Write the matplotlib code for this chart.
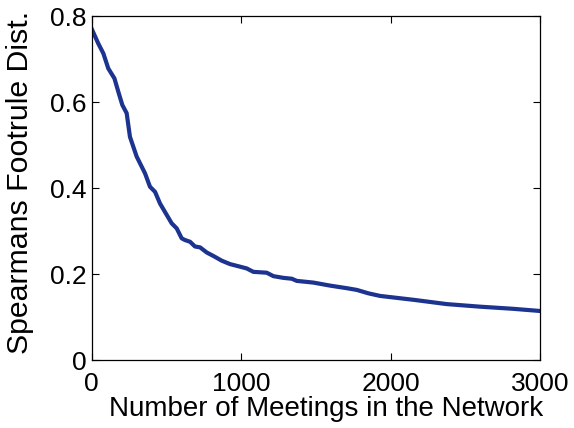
import matplotlib
matplotlib.use("Agg")
import matplotlib.pyplot as plt

plt.rcParams["font.family"] = ["Liberation Sans", "DejaVu Sans"]

# values
meetings = [0, 44, 78, 111, 152, 178, 205, 234, 256, 301, 357, 390, 424, 457,
            535, 569, 602, 624, 658, 691, 725, 770, 814, 870, 926, 993, 1037,
            1082, 1171, 1216, 1283, 1339, 1372, 1484, 1595, 1707, 1774, 1852,
            1930, 2153, 2376, 2599, 2822, 3000]
footrule = [0.770, 0.736, 0.713, 0.678, 0.655, 0.624, 0.593, 0.574, 0.519, 0.473,
            0.434, 0.403, 0.391, 0.364, 0.318, 0.306, 0.283, 0.279, 0.275, 0.264,
            0.262, 0.250, 0.242, 0.231, 0.223, 0.217, 0.213, 0.205, 0.203, 0.195,
            0.191, 0.189, 0.184, 0.180, 0.173, 0.167, 0.163, 0.155, 0.149, 0.140,
            0.130, 0.124, 0.119, 0.114]

x_ticks = [0, 1000, 2000, 3000]
y_ticks = [0, 0.2, 0.4, 0.6, 0.8]
y_tick_labels = ["0", "0.2", "0.4", "0.6", "0.8"]

fig = plt.figure(figsize=(5.74, 4.28), dpi=100)
ax = fig.add_axes([91.7 / 574, 1 - 360 / 428, (540 - 91.7) / 574, (360 - 16) / 428])

ax.plot(meetings, footrule, color="#1c3390", linewidth=3, solid_joinstyle="round")

ax.set_xlim(0, 3000)
ax.set_ylim(0, 0.8)
ax.set_xticks(x_ticks)
ax.set_yticks(y_ticks)
ax.set_yticklabels(y_tick_labels)
ax.tick_params(direction="in", length=5, width=0.8, top=True, right=True,
               labelsize=19, pad=4)
ax.tick_params(axis="x", pad=8.5)
for s in ax.spines.values():
    s.set_linewidth(0.9)

ax.set_xlabel("Number of Meetings in the Network", fontsize=20, labelpad=0.5)
ax.xaxis.label.set_x(0.5226)
ax.set_ylabel("Spearmans Footrule Dist.", fontsize=21.8)
ax.yaxis.set_label_coords(-0.128, 0.516)

fig.savefig("out.png", dpi=100)
